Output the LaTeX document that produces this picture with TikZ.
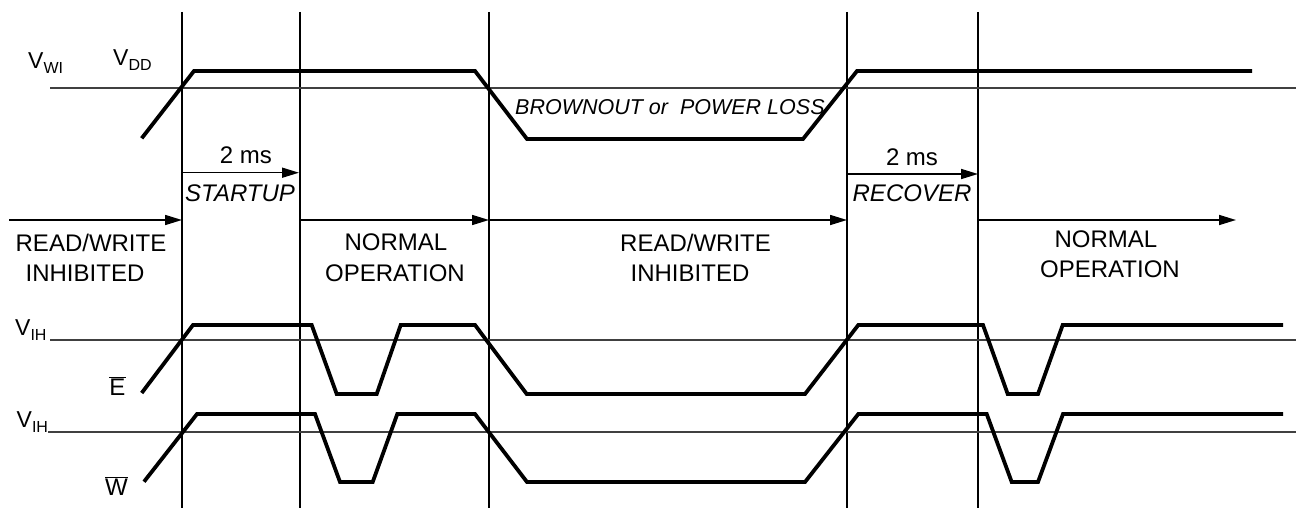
\documentclass[tikz,border=0pt]{standalone}
\usepackage{fontspec}
\setmainfont{Liberation Sans}
\usetikzlibrary{arrows.meta}
\newcommand{\lbl}{\fontsize{24}{28}\selectfont}
\newcommand{\vlbl}[2]{{\fontsize{23}{26}\selectfont V\raisebox{-5pt}{\fontsize{16}{18}\selectfont #2}}}
\begin{document}
\begin{tikzpicture}[x=1pt,y=-1pt,
  thin line/.style={line width=1.5pt},
  ref line/.style={line width=1.1pt, black!75},
  signal/.style={line width=3.8pt, line join=miter},
  timearrow/.style={line width=1.6pt, -{Triangle[length=17pt,width=10pt]}},
  txt/.style={inner sep=0pt, font=\lbl},
  itxt/.style={inner sep=0pt, font=\lbl\itshape}]
\useasboundingbox (0,0) rectangle (1296,508);
% vertical time markers
\foreach \n/\x in {a/182,b/300,c/489,d/847,e/978}{
  \coordinate (top\n) at (\x,12);
  \coordinate (bot\n) at (\x,508);
  \draw[thin line] (top\n) -- (bot\n);
}
% reference levels
\coordinate (vwiL) at (50,88);  \coordinate (vwiR) at (1296,88);
\coordinate (vih1L) at (50,340); \coordinate (vih1R) at (1296,340);
\coordinate (vih2L) at (48,432); \coordinate (vih2R) at (1296,432);
\draw[ref line] (vwiL) -- (vwiR);
\draw[ref line] (vih1L) -- (vih1R);
\draw[ref line] (vih2L) -- (vih2R);
% VDD
\draw[signal] (141.7,138.3) -- (194,71) -- (475,71) -- (527,139) -- (803,139) -- (857,71) -- (1252,71);
% E
\draw[signal] (141.7,393) -- (193,325) -- (311.7,325) -- (336.7,394) -- (376.7,394) -- (400.7,325) -- (475,325) -- (526.7,394) -- (805,394) -- (858.3,325) -- (983,325) -- (1007.7,394) -- (1038,394) -- (1062.7,325) -- (1283,325);
% W
\draw[signal] (144,481.7) -- (197,414) -- (315,414) -- (340,482) -- (372.7,482) -- (397.3,414) -- (475,414) -- (527,482) -- (805,482) -- (858.3,414) -- (986.7,414) -- (1011.7,482) -- (1038,482) -- (1063,414) -- (1283,414);
% arrows
\coordinate (s0) at (9,220);
\coordinate (sa) at (182,220);
\coordinate (sb) at (300,220);
\coordinate (sc) at (489,220);
\coordinate (sd) at (847,220);
\coordinate (se) at (978,220);
\coordinate (sf) at (1236,220);
\draw[timearrow] (s0) -- (sa);
\draw[timearrow] (sb) -- (sc);
\draw[timearrow] (sc) -- (sd);
\draw[timearrow] (se) -- (sf);
\coordinate (ta1) at (182,172.7); \coordinate (ta2) at (299,172.7);
\coordinate (tb1) at (847,174); \coordinate (tb2) at (978,174);
\draw[timearrow] (ta1) -- (ta2);
\draw[timearrow] (tb1) -- (tb2);
% labels
\node[inner sep=0pt, anchor=base west] (vwi) at (28,68.3) {\vlbl{V}{WI}};
\node[inner sep=0pt, anchor=base west] (vdd) at (113,66) {\vlbl{V}{DD}};
\node[inner sep=0pt, anchor=base west] (vih1) at (15,335) {\vlbl{V}{IH}};
\node[inner sep=0pt, anchor=base west] (vih2) at (16.5,427.7) {\vlbl{V}{IH}};
\node[txt, anchor=base] (ebar) at (117.5,395) {$\overline{\mbox{E}}$};
\node[txt, anchor=base] (wbar) at (116.5,495) {$\overline{\mbox{W}}$};
\node[txt, anchor=base] (ms1) at (246,163.3) {2 ms};
\node[txt, anchor=base] (ms2) at (912,166) {2 ms};
\node[itxt, anchor=base] (startup) at (240,201.7) {STARTUP};
\node[itxt, anchor=base] (recover) at (912,201.7) {RECOVER};
\node[inner sep=0pt, anchor=base west, font=\fontsize{21.5}{26}\selectfont\itshape] (brown) at (515,115) {BROWNOUT or\ \ POWER LOSS};
\node[txt, anchor=base] (rw1a) at (91,251.7) {READ/WRITE};
\node[txt, anchor=base] (rw1b) at (85,281.7) {INHIBITED};
\node[txt, anchor=base] (no1a) at (396,250) {NORMAL};
\node[txt, anchor=base] (no1b) at (395,281) {OPERATION};
\node[txt, anchor=base] (rw2a) at (695.5,251.7) {READ/WRITE};
\node[txt, anchor=base] (rw2b) at (690,281.7) {INHIBITED};
\node[txt, anchor=base] (no2a) at (1106,247.3) {NORMAL};
\node[txt, anchor=base] (no2b) at (1110,277.7) {OPERATION};
\end{tikzpicture}
\end{document}
